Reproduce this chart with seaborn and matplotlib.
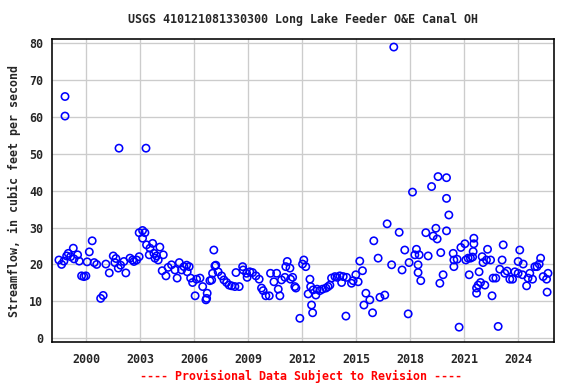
import matplotlib
matplotlib.use("Agg")
import matplotlib.pyplot as plt
import seaborn as sns
import pandas as pd

title = "USGS 410121081330300 Long Lake Feeder O&E Canal OH"
ylabel = "Streamflow, in cubic feet per second"
footer = "---- Provisional Data Subject to Revision ----"
xticks = [2000, 2003, 2006, 2009, 2012, 2015, 2018, 2021, 2024]
yticks = [0, 10, 20, 30, 40, 50, 60, 70, 80]

years = [
    1998.47, 1998.62, 1998.81, 1998.81, 1998.75, 1998.90, 1998.99, 1999.12, 1999.27, 1999.31,
    1999.51, 1999.60, 1999.73, 1999.86, 1999.97, 2000.04, 2000.16, 2000.32, 2000.43, 2000.57,
    2000.79, 2000.93, 2001.08, 2001.27, 2001.49, 2001.64, 2001.58, 2001.81, 2001.77, 2001.90,
    2002.08, 2002.19, 2002.42, 2002.57,
    2002.64, 2002.79, 2002.93, 2002.93, 2003.12, 2003.25, 2003.12, 2003.31, 2003.34, 2003.53,
    2003.68, 2003.49, 2003.75, 2004.08, 2003.81, 2003.99, 2004.27, 2003.90, 2004.21, 2004.42,
    2004.54, 2004.73, 2004.92, 2005.16, 2005.04, 2005.29, 2005.42, 2005.57, 2005.71, 2005.60,
    2005.79, 2005.90, 2006.12, 2006.31, 2006.46, 2006.04, 2006.71, 2006.68, 2006.64, 2006.86,
    2007.01, 2007.08, 2007.14,
    2007.19, 2006.96, 2007.32, 2007.51, 2007.64, 2007.79, 2007.93, 2008.07, 2008.25, 2008.49,
    2008.31, 2008.68, 2008.71, 2008.90, 2008.93, 2009.08, 2009.23, 2009.42, 2009.60, 2009.73,
    2009.82, 2009.97, 2010.16, 2010.23, 2010.42, 2010.57, 2010.66, 2010.75, 2010.84, 2011.03,
    2011.16, 2011.08, 2011.31, 2011.34, 2011.46, 2011.58,
    2011.64, 2011.86, 2012.01, 2012.08, 2012.19, 2012.42, 2012.46, 2012.32, 2012.51, 2012.57,
    2012.60, 2012.75, 2012.82, 2012.97, 2013.12, 2013.31, 2013.43, 2013.53, 2013.62, 2013.81,
    2013.93, 2014.08, 2014.18, 2014.27, 2014.46, 2014.42, 2014.73, 2014.82, 2014.97, 2015.10,
    2015.19, 2015.34, 2015.53, 2015.75, 2015.42, 2015.90, 2015.97,
    2016.21, 2016.31, 2016.58, 2016.71, 2016.96, 2017.08, 2017.38, 2017.54, 2017.69, 2017.88,
    2017.93, 2018.12, 2018.25, 2018.34, 2018.49, 2018.43, 2018.43, 2018.58, 2018.86, 2018.99,
    2019.18, 2019.27, 2019.42, 2019.49, 2019.54, 2019.64, 2019.69, 2019.82, 2020.01, 2020.01,
    2020.01, 2020.14, 2020.38, 2020.42, 2020.42,
    2020.60, 2020.71, 2020.81, 2021.03, 2021.08, 2021.21, 2021.27, 2021.34, 2021.46, 2021.49,
    2021.53, 2021.53, 2021.68, 2021.68, 2021.77, 2021.82, 2021.90, 2021.99, 2022.04, 2022.14,
    2022.23, 2022.29, 2022.46, 2022.54, 2022.60, 2022.75, 2022.88, 2022.97, 2023.10, 2023.16,
    2023.25, 2023.38, 2023.53, 2023.68, 2023.81, 2023.99, 2024.08, 2023.99, 2024.27, 2024.23,
    2024.46, 2024.54, 2024.64, 2024.79, 2024.92, 2025.04, 2025.16, 2025.24,
    2025.65, 2025.57, 2025.60, 2025.38,
]

flow = [
    21.2, 20.0, 65.5, 60.2, 20.9, 22.3, 23.0, 22.1, 24.4, 21.5,
    22.6, 20.9, 16.9, 16.7, 16.9, 20.7, 23.4, 26.4, 20.5, 20.0,
    10.8, 11.6, 20.1, 17.7, 22.3, 21.6, 20.5, 51.5, 19.0, 19.8,
    20.8, 17.7, 21.7, 21.2,
    20.8, 21.2, 22.1, 28.6, 29.2, 28.6, 27.1, 51.5, 25.3, 24.4,
    25.7, 22.6, 23.0, 24.7, 21.7, 21.2, 22.6, 22.3, 18.3, 16.9,
    19.2, 19.9, 18.5, 20.5, 16.3, 18.5, 19.4, 19.8, 19.4, 18.0,
    16.3, 15.1, 16.0, 16.3, 14.0, 11.5, 12.2, 10.8, 10.4, 15.6,
    17.6, 23.9, 19.6,
    19.8, 15.8, 18.0, 16.9, 15.8, 15.1, 14.4, 14.2, 14.0, 14.0,
    17.8, 19.4, 18.5, 17.6, 16.5, 18.0, 17.8, 16.9, 16.0, 13.6,
    12.9, 11.5, 11.5, 17.6, 15.3, 17.6, 13.3, 11.5, 15.8, 16.5,
    20.8, 19.4, 19.0, 16.0, 16.5, 14.0,
    13.6, 5.4, 20.1, 21.2, 19.4, 16.0, 14.0, 12.0, 9.0, 6.9,
    13.1, 11.7, 13.3, 12.9, 13.3, 13.6, 14.0, 14.4, 16.3, 16.7,
    16.5, 16.9, 15.1, 16.7, 16.5, 6.0, 14.9, 15.6, 17.2, 15.3,
    20.9, 18.3, 12.2, 10.4, 9.0, 6.9, 26.4,
    21.7, 11.1, 11.7, 31.0, 19.9, 78.9, 28.7, 18.5, 23.9, 6.6,
    20.5, 39.6, 22.6, 24.1, 22.6, 19.9, 17.8, 15.6, 28.6, 22.3,
    41.1, 27.7, 29.8, 26.9, 43.8, 14.9, 23.2, 17.2, 43.5, 37.9,
    29.1, 33.4, 23.0, 21.2, 19.4,
    21.4, 3.0, 24.6, 25.6, 21.2, 21.7, 17.2, 21.7, 22.0, 23.5,
    25.6, 27.1, 13.6, 12.2, 14.4, 18.0, 15.1, 22.1, 20.5, 14.4,
    21.2, 24.1, 21.2, 11.5, 16.3, 16.3, 3.2, 18.7, 21.2, 25.3,
    17.6, 18.2, 16.0, 16.0, 18.0, 17.6, 23.9, 20.8, 20.1, 17.2,
    14.2, 16.3, 17.6, 16.0, 19.4, 19.4, 20.1, 21.7,
    17.6, 16.0, 12.5, 16.7,
]

df = pd.DataFrame({"year": years, "flow": flow})

sns.set_style("white")
plt.rcParams["font.family"] = ["DejaVu Sans Mono", "DejaVu Sans"]
plt.rcParams["font.weight"] = "bold"

fig = plt.figure(figsize=(6, 4), dpi=96)
ax = fig.add_axes([51.7 / 576, 1 - 342.3 / 384, (554.3 - 51.7) / 576, (342.3 - 39.3) / 384])

sns.scatterplot(data=df, x="year", y="flow", ax=ax, color="blue", s=30, marker="o", zorder=3)
pts = ax.collections[0]
pts.set_facecolor("none")
pts.set_edgecolor("#0000ff")
pts.set_linewidth(1.2)

ax.set_xlim(1998.07, 2026.0)
ax.set_ylim(-1.1, 81)
ax.set_xticks(xticks)
ax.set_yticks(yticks)
ax.set_xticklabels([str(t) for t in xticks], fontsize=8.7, fontweight="bold")
ax.set_yticklabels([str(t) for t in yticks], fontsize=8.7, fontweight="bold")
ax.tick_params(axis="both", length=0)
ax.tick_params(axis="y", pad=6.5)
ax.tick_params(axis="x", pad=8)
ax.grid(True, color="#cccccc", linewidth=1)
ax.set_axisbelow(True)
for sp in ax.spines.values():
    sp.set_color("black")
    sp.set_linewidth(1.2)

ax.set_xlabel("")
ax.set_ylabel(ylabel, fontsize=8.7, fontweight="bold", labelpad=6)
fig.text(303 / 576, 1 - 20 / 384, title, ha="center", va="center", fontsize=8.7, fontweight="bold")
fig.text(301 / 576, 1 - 376 / 384, footer, ha="center", va="center", fontsize=8.7, fontweight="bold", color="red")

fig.savefig("out.png", dpi=96)
